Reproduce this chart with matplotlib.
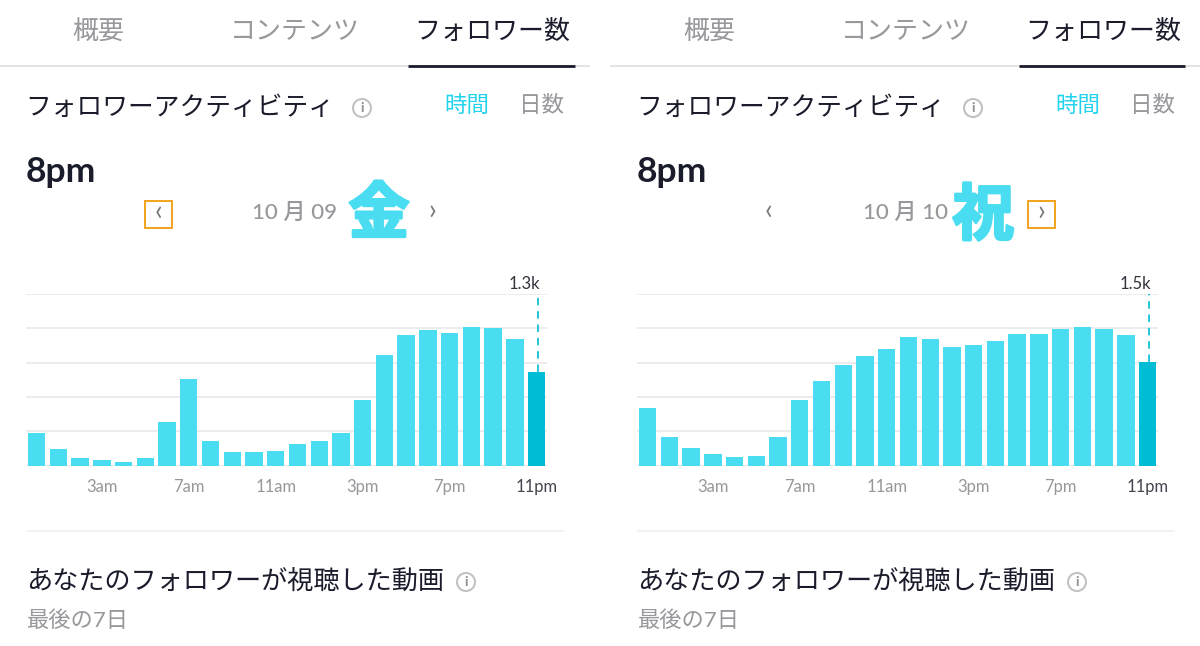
import matplotlib
matplotlib.use('Agg')
import matplotlib.pyplot as plt
from matplotlib.patches import Circle, Rectangle
import matplotlib.patheffects as pe

W, H = 1200, 646
plt.rcParams['font.family'] = ['Lato', 'Noto Sans CJK JP', 'DejaVu Sans']

# follower counts per hour, in thousands
hours = list(range(24))
oct09 = [0.46, 0.23, 0.115, 0.087, 0.05, 0.106, 0.61, 1.20, 0.35, 0.19, 0.19, 0.21,
         0.30, 0.35, 0.45, 0.91, 1.53, 1.80, 1.88, 1.83, 1.91, 1.90, 1.75, 1.30]
oct10 = [0.83, 0.42, 0.255, 0.17, 0.135, 0.14, 0.42, 0.95, 1.22, 1.46, 1.59, 1.69,
         1.86, 1.83, 1.71, 1.74, 1.81, 1.90, 1.91, 1.98, 2.00, 1.97, 1.885, 1.50]
tick_hours = [3, 7, 11, 15, 19, 23]
tick_labels = ['3am', '7am', '11am', '3pm', '7pm', '11pm']
tabs = ['概要', 'コンテンツ', 'フォロワー数']

CYAN = '#4adcf0'
DARK_CYAN = '#00bcd4'
GREY = '#97979c'
INK = '#1a1c2b'

fig = plt.figure(figsize=(W / 100, H / 100), dpi=100, facecolor='white')
ui = fig.add_axes([0, 0, 1, 1])
ui.set_xlim(0, W)
ui.set_ylim(H, 0)
ui.axis('off')


def info_icon(x, y):
    ui.add_patch(Circle((x, y), 9, fill=False, ec='#c2c2c5', lw=1.5))
    ui.text(x, y, 'i', fontsize=10, fontweight='bold', color='#8f8f93', ha='center', va='center')


def chart(values, left, right, ymax, label, x0):
    # x0 = centre of the first bar in pixels, bars are 21.74 px apart
    pitch = 21.74
    ax = fig.add_axes([left / W, 1 - 465.9 / H, (right - left) / W, 172.2 / H])
    ax.patch.set_alpha(0)
    colors = [CYAN] * 23 + [DARK_CYAN]
    ax.bar(hours, values, width=0.8, color=colors, zorder=3)
    ax.set_xlim((left - x0) / pitch, (right - x0) / pitch)
    ax.set_ylim(0, ymax)
    ax.set_yticks([ymax * i / 5 for i in range(6)])
    ax.tick_params(left=False, bottom=False, labelleft=False, pad=6)
    ax.grid(axis='y', color='#ebebed', lw=1.3, zorder=0)
    ax.set_axisbelow(True)
    for s in ax.spines.values():
        s.set_visible(False)
    ax.set_xticks(tick_hours, tick_labels, fontsize=12, color=GREY)
    ax.get_xticklabels()[-1].set_color('#44444f')
    ax.plot([23.05, 23.05], [values[-1], ymax], color=DARK_CYAN, lw=1.2, ls=(0, (4.5, 3.5)), zorder=4)
    ax.annotate(label, (23.05, ymax), xytext=(2, 1.5), textcoords='offset points',
                ha='right', va='bottom', fontsize=12, color='#33333d')


def panel(dx, line_l, line_r, tab_xs, ul, date, date_x, kanji, kanji_x, kanji_y, box_x, arrow_x, box_char, arrow_char, values, ymax, label, x0):
    for t, x, c in zip(tabs, tab_xs, [GREY, GREY, INK]):
        ui.text(x, 32, t, fontsize=18.7, color=c, ha='center', va='center')
    ui.plot([line_l, line_r], [66, 66], color='#e0e0e2', lw=1.3)
    ui.plot(ul, [65.5, 65.5], color=INK, lw=2, solid_capstyle='butt')

    ui.text(25 + dx, 107, 'フォロワーアクティビティ', fontsize=18.5, color=INK, ha='left', va='center')
    info_icon(362 + dx, 108)
    ui.text(467 + dx, 105, '時間', fontsize=16.2, color='#22d3ee', ha='center', va='center')
    ui.text(541.5 + dx, 105, '日数', fontsize=16.2, color=GREY, ha='center', va='center')
    ui.text(26 + dx, 172, '8pm', fontsize=25.5, fontweight='bold', color=INK, ha='left', va='center')

    ui.text(date_x, 213, date, fontsize=16, fontweight='medium', color=GREY, ha='center', va='center')
    ui.text(kanji_x, kanji_y, kanji, fontsize=44, fontweight='bold', color=CYAN, ha='center', va='center',
            path_effects=[pe.withStroke(linewidth=2, foreground=CYAN)])
    ui.add_patch(Rectangle((box_x, 201), 27, 27, fill=False, ec='#f2a31c', lw=1.4))
    ui.text(box_x + 13.5, 212, box_char, fontsize=20, color='#77777c', ha='center', va='center')
    ui.text(arrow_x, 211, arrow_char, fontsize=20, color='#77777c', ha='center', va='center')

    chart(values, 26 + dx, 547 + dx, ymax, label, x0)

    ui.plot([27 + dx, 563 + dx], [531, 531], color='#f0f0f1', lw=1.2)
    ui.text(26 + dx, 582, 'あなたのフォロワーが視聴した動画', fontsize=18.85, color=INK, ha='left', va='center')
    info_icon(466 + dx, 582)
    ui.text(27 + dx, 621, '最後の7日', fontsize=16, color=GREY, ha='left', va='center')


panel(0, 0, 589, [98, 295, 492.5], [408, 575], '10 月 09', 295, '金', 379, 215, 145, 432, '‹', '›',
      oct09, 2.375, '1.3k', 36.6)
panel(611, 611, 1200, [709, 906, 1103.5], [1019, 1185], '10 月 10', 905.5, '祝', 983, 216, 1028, 768, '›', '‹',
      oct10, 2.486, '1.5k', 647.6)

fig.savefig('out.png', dpi=100)
